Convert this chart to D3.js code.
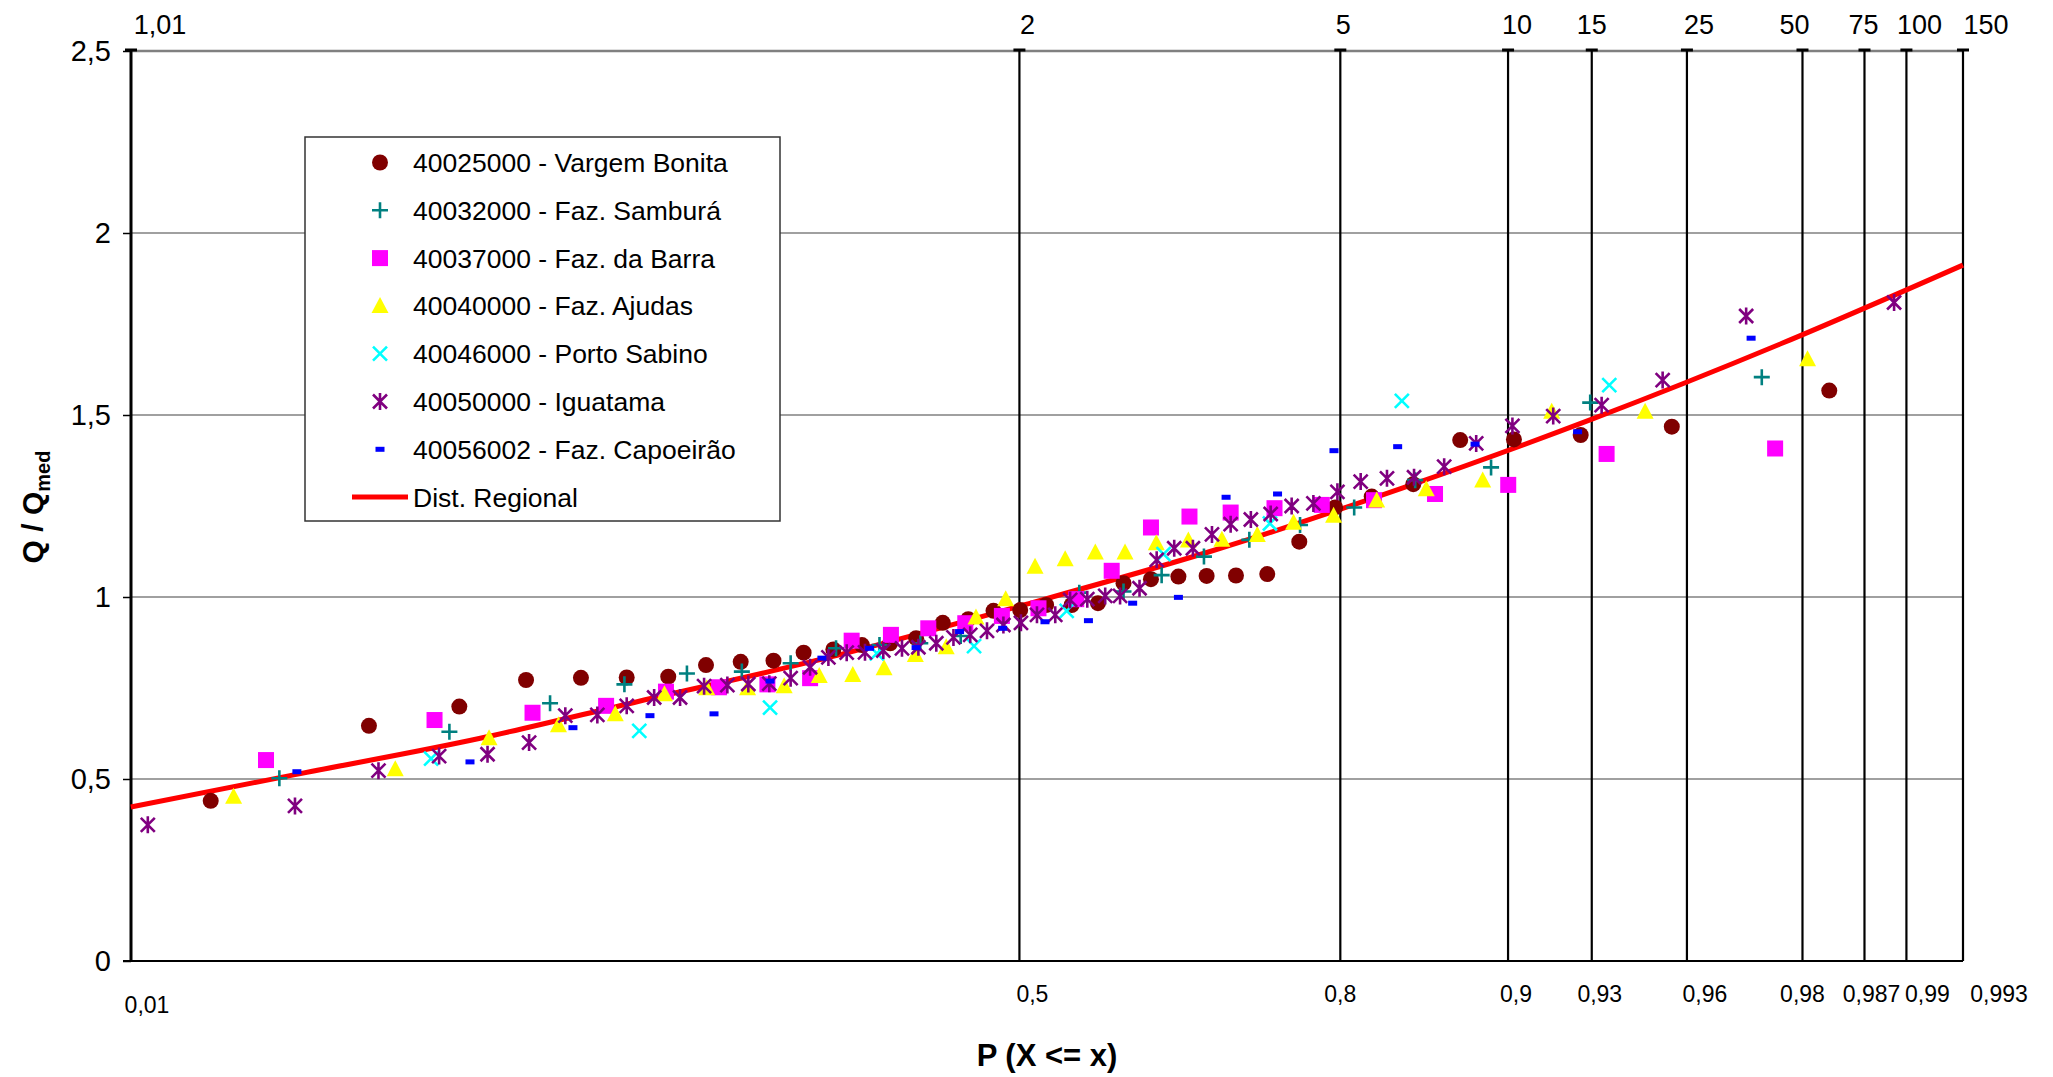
<!DOCTYPE html>
<html><head><meta charset="utf-8">
<script src="https://cdn.jsdelivr.net/npm/d3@7"></script>
<style>body{margin:0;background:#fff}svg{display:block}text{font-family:"Liberation Sans",Arial,sans-serif}</style>
</head><body>
<svg id="chart" width="2053" height="1077"></svg>
<script>
// ---------- DATA ----------
// x = standard normal reduced variate of P(X <= x), y = Q / Qmed
const returnPeriods = [1.01, 2, 5, 10, 15, 25, 50, 75, 100, 150];
const topLabels = ["1,01", "2", "5", "10", "15", "25", "50", "75", "100", "150"];
const bottomLabels = ["0,01", "0,5", "0,8", "0,9", "0,93", "0,96", "0,98", "0,987", "0,99", "0,993"];
const yTicks = [0, 0.5, 1, 1.5, 2, 2.5];
const yTickLabels = ["0", "0,5", "1", "1,5", "2", "2,5"];

const seriesNames = ["40025000 - Vargem Bonita", "40032000 - Faz. Samburá", "40037000 - Faz. da Barra",
  "40040000 - Faz. Ajudas", "40046000 - Porto Sabino", "40050000 - Iguatama", "40056002 - Faz. Capoeirão"];
const regionalName = "Dist. Regional";

const vargemBonita = [[-2.121,0.440],[-1.706,0.646],[-1.469,0.699],[-1.294,0.772],[-1.150,0.778],[-1.030,0.779],
  [-0.921,0.781],[-0.822,0.813],[-0.731,0.822],[-0.645,0.825],[-0.566,0.847],[-0.488,0.856],[-0.413,0.868],
  [-0.339,0.873],[-0.271,0.887],[-0.201,0.929],[-0.134,0.939],[-0.068,0.962],[0.002,0.964],[0.070,0.978],
  [0.137,0.978],[0.206,0.983],[0.273,1.038],[0.345,1.049],[0.417,1.056],[0.491,1.058],[0.568,1.059],
  [0.650,1.063],[0.734,1.152],[0.828,1.246],[0.924,1.276],[1.033,1.310],[1.156,1.431],[1.297,1.433],
  [1.472,1.445],[1.711,1.468],[2.124,1.567]];
const fazSambura = [[-1.941,0.502],[-1.495,0.630],[-1.231,0.708],[-1.036,0.760],[-0.872,0.790],[-0.728,0.795],
  [-0.600,0.818],[-0.481,0.859],[-0.367,0.868],[-0.260,0.873],[-0.154,0.893],[0.157,1.012],[0.273,1.015],
  [0.373,1.060],[0.484,1.111],[0.603,1.157],[0.736,1.198],[0.878,1.246],[1.038,1.321],[1.237,1.356],
  [1.497,1.534],[1.947,1.604]];
const fazDaBarra = [[-1.976,0.552],[-1.534,0.662],[-1.277,0.682],[-1.084,0.701],[-0.927,0.740],[-0.788,0.752],
  [-0.661,0.760],[-0.549,0.777],[-0.440,0.880],[-0.337,0.896],[-0.239,0.914],[-0.142,0.928],[-0.046,0.948],
  [0.050,0.969],[0.149,0.994],[0.242,1.072],[0.345,1.191],[0.446,1.221],[0.554,1.232],[0.669,1.244],
  [0.793,1.253],[0.930,1.266],[1.090,1.283],[1.282,1.308],[1.540,1.393],[1.982,1.408]];
const fazAjudas = [[-2.061,0.451],[-1.637,0.527],[-1.391,0.612],[-1.209,0.648],[-1.060,0.678],[-0.931,0.733],
  [-0.820,0.749],[-0.713,0.749],[-0.617,0.755],[-0.525,0.783],[-0.437,0.786],[-0.355,0.804],[-0.273,0.841],
  [-0.192,0.862],[-0.114,0.944],[-0.036,0.994],[0.041,1.083],[0.120,1.104],[0.199,1.122],[0.277,1.122],
  [0.359,1.148],[0.443,1.155],[0.531,1.157],[0.624,1.170],[0.719,1.204],[0.824,1.223],[0.937,1.265],
  [1.067,1.296],[1.215,1.320],[1.396,1.509],[1.641,1.509],[2.067,1.653]];
const portoSabino = [[-1.543,0.556],[-0.997,0.632],[-0.654,0.696],[-0.374,0.845],[-0.119,0.865],[0.124,0.962],
  [0.378,1.118],[0.657,1.202],[1.003,1.539],[1.547,1.582]];
const iguatama = [[-2.286,0.374],[-1.900,0.426],[-1.681,0.523],[-1.522,0.563],[-1.395,0.568],[-1.286,0.600],
  [-1.191,0.674],[-1.107,0.676],[-1.030,0.701],[-0.958,0.724],[-0.890,0.724],[-0.827,0.755],[-0.766,0.758],
  [-0.711,0.761],[-0.656,0.762],[-0.600,0.777],[-0.549,0.807],[-0.501,0.834],[-0.453,0.847],[-0.405,0.848],
  [-0.357,0.853],[-0.308,0.859],[-0.265,0.862],[-0.218,0.873],[-0.173,0.889],[-0.129,0.896],[-0.085,0.907],
  [-0.042,0.923],[0.004,0.929],[0.046,0.951],[0.094,0.951],[0.133,0.992],[0.178,0.994],[0.225,1.003],
  [0.264,1.003],[0.315,1.024],[0.360,1.102],[0.406,1.134],[0.455,1.134],[0.505,1.172],[0.554,1.200],
  [0.607,1.213],[0.659,1.228],[0.714,1.250],[0.771,1.257],[0.834,1.289],[0.895,1.317],[0.964,1.326],
  [1.035,1.329],[1.114,1.358],[1.198,1.422],[1.293,1.470],[1.400,1.497],[1.527,1.527],[1.687,1.596],
  [1.906,1.772],[2.294,1.809]];
const fazCapoeirao = [[-1.895,0.520],[-1.441,0.547],[-1.171,0.641],[-0.969,0.674],[-0.801,0.679],[-0.654,0.769],
  [-0.518,0.832],[-0.393,0.859],[-0.271,0.861],[-0.157,0.905],[-0.044,0.914],[0.067,0.932],[0.181,0.935],
  [0.297,0.983],[0.417,0.999],[0.542,1.274],[0.677,1.283],[0.825,1.402],[0.992,1.413],[1.195,1.420],
  [1.464,1.454],[1.919,1.711]];
const regionalCurve = [[-2.3305,0.423],[-1.9,0.512],[-1.414,0.612],[-1.0,0.713],[-0.5,0.834],[0,0.975],
  [0.5,1.125],[1.0,1.298],[1.5,1.488],[2.0,1.697],[2.4747,1.912]];

// ---------- HELPERS ----------
function probit(p){
  const a=[-3.969683028665376e+01,2.209460984245205e+02,-2.759285104469687e+02,1.383577518672690e+02,-3.066479806614716e+01,2.506628277459239e+00];
  const b=[-5.447609879822406e+01,1.615858368580409e+02,-1.556989798598866e+02,6.680131188771972e+01,-1.328068155288572e+01];
  const c=[-7.784894002430293e-03,-3.223964580411365e-01,-2.400758277161838e+00,-2.549732539343734e+00,4.374664141464968e+00,2.938163982698783e+00];
  const d=[7.784695709041462e-03,3.224671290700398e-01,2.445134137142996e+00,3.754408661907416e+00];
  const pl=0.02425, ph=1-pl; let q, r;
  if(p<pl){q=Math.sqrt(-2*Math.log(p));return (((((c[0]*q+c[1])*q+c[2])*q+c[3])*q+c[4])*q+c[5])/((((d[0]*q+d[1])*q+d[2])*q+d[3])*q+1);}
  if(p<=ph){q=p-0.5;r=q*q;return (((((a[0]*r+a[1])*r+a[2])*r+a[3])*r+a[4])*r+a[5])*q/(((((b[0]*r+b[1])*r+b[2])*r+b[3])*r+b[4])*r+1);}
  q=Math.sqrt(-2*Math.log(1-p));return -(((((c[0]*q+c[1])*q+c[2])*q+c[3])*q+c[4])*q+c[5])/((((d[0]*q+d[1])*q+d[2])*q+d[3])*q+1);
}
const zOfT = T => probit(1 - 1/T);

// ---------- LAYOUT ----------
const L = 131, R = 1963, T0 = 51, B = 961;
const x = d3.scaleLinear().domain([zOfT(returnPeriods[0]), zOfT(returnPeriods[returnPeriods.length-1])]).range([L, R]);
const y = d3.scaleLinear().domain([0, 2.5]).range([B, T0]);
const topNudge = [29, 8, 3, 9, 0, 12, -8, -1, 13, 23];
const bottomNudge = [16, 13, 0, 8, 8, 18, 0, 7, 21, 36];

const svg = d3.select("#chart");

// horizontal gridlines
svg.append("g").selectAll("line").data(yTicks).join("line")
  .attr("x1", L).attr("x2", R).attr("y1", d => y(d)).attr("y2", d => y(d))
  .attr("stroke", "#808080").attr("stroke-width", d => d === 2.5 ? 2.5 : 1.5);

// y axis
const yAxis = d3.axisLeft(y).tickValues(yTicks).tickFormat((d, i) => yTickLabels[i]).tickSize(8).tickPadding(12);
const gy = svg.append("g").attr("transform", `translate(${L},0)`).call(yAxis);
gy.select(".domain").remove();
gy.selectAll(".tick line").attr("stroke", "#000").attr("stroke-width", 1.5);
gy.selectAll(".tick text").attr("font-size", 29).attr("fill", "#000").attr("font-family", '"Liberation Sans", Arial, sans-serif');

// vertical return-period lines
svg.append("g").selectAll("line").data(returnPeriods).join("line")
  .attr("x1", d => x(zOfT(d))).attr("x2", d => x(zOfT(d)))
  .attr("y1", T0 - 2).attr("y2", B)
  .attr("stroke", "#000").attr("stroke-width", (d, i) => i === 0 ? 3 : 2.2);
svg.append("g").selectAll("line").data(returnPeriods).join("line")
  .attr("x1", d => x(zOfT(d)) - 6).attr("x2", d => x(zOfT(d)) + 6)
  .attr("y1", T0 - 1).attr("y2", T0 - 1)
  .attr("stroke", "#000").attr("stroke-width", 3);

// bottom axis line
svg.append("line").attr("x1", L - 8).attr("x2", R).attr("y1", B).attr("y2", B)
  .attr("stroke", "#000").attr("stroke-width", 2.2);

// top labels (return period)
svg.append("g").selectAll("text").data(returnPeriods).join("text")
  .attr("x", (d, i) => x(zOfT(d)) + topNudge[i])
  .attr("y", 34).attr("text-anchor", "middle").attr("font-size", 27)
  .text((d, i) => topLabels[i]);

// bottom labels (probability)
svg.append("g").selectAll("text").data(returnPeriods).join("text")
  .attr("x", (d, i) => x(zOfT(d)) + bottomNudge[i])
  .attr("y", (d, i) => i === 0 ? 1013 : 1002).attr("text-anchor", "middle").attr("font-size", 23)
  .text((d, i) => bottomLabels[i]);

// regional curve
const line = d3.line().x(d => x(d[0])).y(d => y(d[1])).curve(d3.curveMonotoneX);
svg.append("path").datum(regionalCurve).attr("d", line)
  .attr("fill", "none").attr("stroke", "#FF0000").attr("stroke-width", 5);

// marker drawers
const S = 8;
const markers = [
  {data: vargemBonita, draw: (g) => g.append("circle").attr("r", 8).attr("fill", "#800000")},
  {data: fazSambura, draw: (g) => g.append("path").attr("d", `M${-S},0H${S}M0,${-S}V${S}`).attr("stroke", "#008080").attr("stroke-width", 2.6).attr("fill", "none")},
  {data: fazDaBarra, draw: (g) => g.append("rect").attr("x", -8).attr("y", -8).attr("width", 16).attr("height", 16).attr("fill", "#FF00FF")},
  {data: fazAjudas, draw: (g) => g.append("path").attr("d", "M0,-9L8.5,7L-8.5,7Z").attr("fill", "#FFFF00")},
  {data: portoSabino, draw: (g) => g.append("path").attr("d", "M-7,-7L7,7M-7,7L7,-7").attr("stroke", "#00FFFF").attr("stroke-width", 2.6).attr("fill", "none")},
  {data: iguatama, draw: (g) => g.append("path").attr("d", "M-7,-7L7,7M-7,7L7,-7M0,-8.5V8.5").attr("stroke", "#800080").attr("stroke-width", 2.6).attr("fill", "none")},
  {data: fazCapoeirao, draw: (g) => g.append("rect").attr("x", -4.5).attr("y", -2.5).attr("width", 9).attr("height", 5).attr("fill", "#0000FF")}
];
markers.forEach(m => {
  svg.append("g").selectAll("g").data(m.data).join("g")
    .attr("transform", d => `translate(${x(d[0])},${y(d[1])})`)
    .each(function(){ m.draw(d3.select(this)); });
});

// legend
const lg = svg.append("g");
lg.append("rect").attr("x", 305).attr("y", 137).attr("width", 475).attr("height", 384)
  .attr("fill", "#fff").attr("stroke", "#333").attr("stroke-width", 1.5);
const rowY = i => 162.5 + i * 47.8;
markers.forEach((m, i) => {
  const g = lg.append("g").attr("transform", `translate(380,${rowY(i)})`);
  m.draw(g);
  lg.append("text").attr("x", 413).attr("y", rowY(i)).attr("dy", "0.36em").attr("font-size", 26.5).text(seriesNames[i]);
});
lg.append("line").attr("x1", 352).attr("x2", 408).attr("y1", rowY(7)).attr("y2", rowY(7))
  .attr("stroke", "#FF0000").attr("stroke-width", 5);
lg.append("text").attr("x", 413).attr("y", rowY(7)).attr("dy", "0.36em").attr("font-size", 26.5).text(regionalName);

// axis titles
svg.append("text").attr("x", 1047).attr("y", 1066).attr("text-anchor", "middle")
  .attr("font-size", 31).attr("font-weight", "bold").text("P (X <= x)");
const yt = svg.append("text").attr("transform", "translate(43,507) rotate(-90)").attr("text-anchor", "middle")
  .attr("font-size", 30).attr("font-weight", "bold");
yt.append("tspan").text("Q / Q");
yt.append("tspan").attr("font-size", 20).attr("dy", 7).text("med");
</script>
</body></html>
